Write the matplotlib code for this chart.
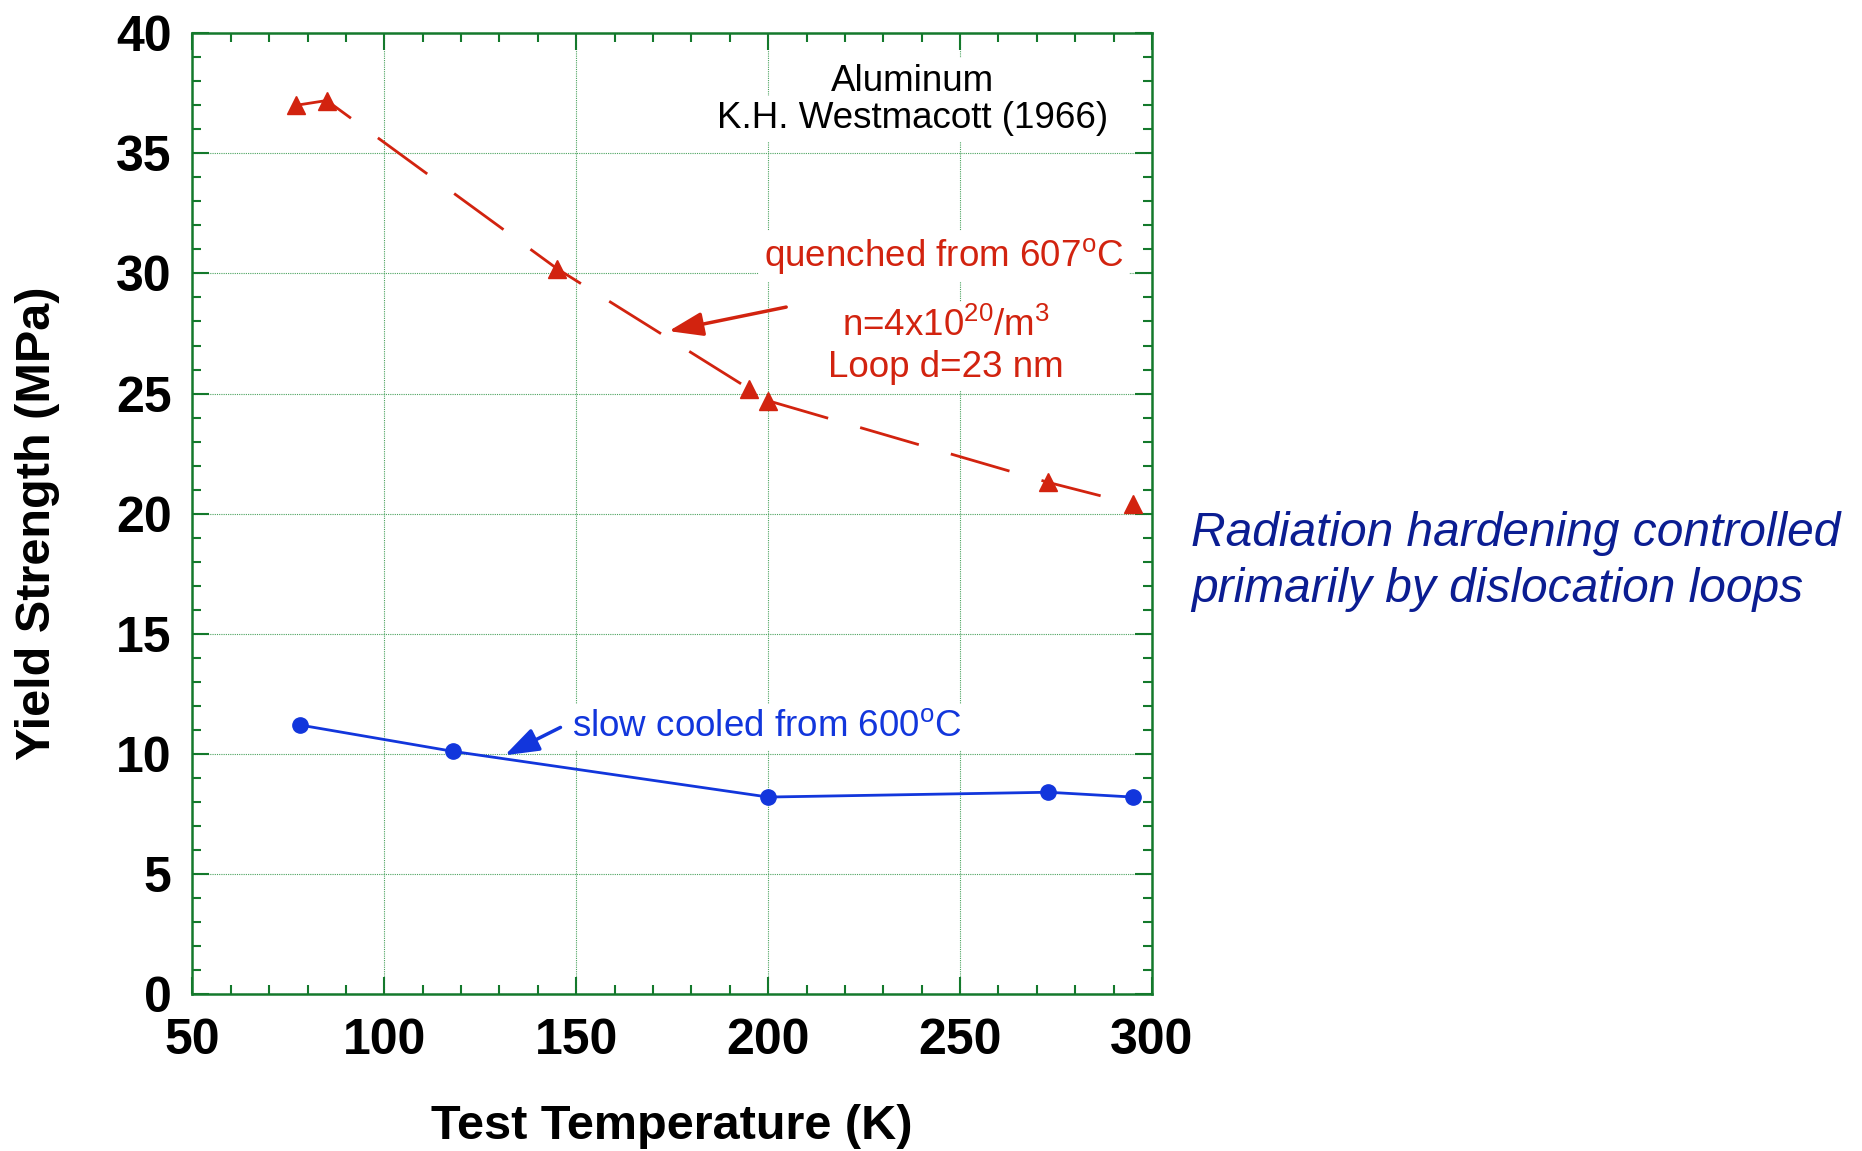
"""Yield strength of aluminum vs test temperature (Westmacott 1966)."""

import matplotlib

matplotlib.use("Agg")
import matplotlib.pyplot as plt
import numpy as np

# quenched from 607 C (red triangles, dashed line)
quenched_temp = [77, 85, 145, 195, 200, 273, 295]
quenched_ys = [37.0, 37.2, 30.2, 25.2, 24.7, 21.3, 20.4]

# slow cooled from 600 C (blue circles, solid line)
slow_temp = [78, 118, 200, 273, 295]
slow_ys = [11.2, 10.1, 8.2, 8.4, 8.2]

x_ticks = [50, 100, 150, 200, 250, 300]
y_ticks = [0, 5, 10, 15, 20, 25, 30, 35, 40]

RED = "#d2230f"
BLUE = "#1236dc"
NAVY = "#0b1d92"
GREEN = "#14792c"
GRID_GREEN = "#4aa35e"

plt.rcParams["font.family"] = ["Liberation Sans", "DejaVu Sans"]
plt.rcParams["mathtext.fontset"] = "custom"
plt.rcParams["mathtext.rm"] = "Liberation Sans"
plt.rcParams["mathtext.it"] = "Liberation Sans:italic"

fig = plt.figure(figsize=(18.62, 11.51), dpi=100)
ax = fig.add_axes([0.1033, 0.1364, 0.5154, 0.8347])

ax.plot(
    quenched_temp,
    quenched_ys,
    color=RED,
    linewidth=2.0,
    dashes=(22, 12),
    marker="^",
    markersize=13,
    zorder=3,
)
ax.plot(
    slow_temp,
    slow_ys,
    color=BLUE,
    linewidth=2.0,
    marker="o",
    markersize=11,
    zorder=3,
)

ax.set_xlim(50, 300)
ax.set_ylim(0, 40)
ax.set_xticks(x_ticks)
ax.set_yticks(y_ticks)
ax.set_xticks(np.arange(50, 301, 10), minor=True)
ax.set_yticks(np.arange(0, 41, 1), minor=True)

ax.tick_params(
    which="both", direction="in", top=True, right=True,
    color=GREEN, width=1.5,
)
ax.tick_params(which="major", length=12, labelsize=36)
ax.tick_params(axis="x", which="major", pad=17)
ax.tick_params(axis="y", which="major", pad=15)
ax.tick_params(which="minor", length=6.5)
for lab in ax.get_xticklabels() + ax.get_yticklabels():
    lab.set_fontweight("bold")

for spine in ax.spines.values():
    spine.set_color(GREEN)
    spine.set_linewidth(1.8)

ax.set_axisbelow(True)
ax.grid(True, which="major", color=GRID_GREEN, linewidth=0.8,
        linestyle=(0, (1, 1)))

ax.set_xlabel("Test Temperature (K)", fontsize=35, fontweight="bold",
              labelpad=29)
ax.set_ylabel("Yield Strength (MPa)", fontsize=35, fontweight="bold",
              labelpad=40)
ax.yaxis.label.set_y(0.49)

white_box = dict(facecolor="white", edgecolor="none", pad=4)

ax.text(237.5, 37.6, "Aluminum", fontsize=26.5, ha="center",
        va="baseline", bbox=white_box, zorder=4)
ax.text(237.5, 36.05, "K.H. Westmacott (1966)", fontsize=26.5,
        ha="center", va="baseline", bbox=white_box, zorder=4)

ax.text(245.8, 30.3, r"quenched from 607$^{\mathrm{o}}$C", fontsize=26.5,
        color=RED, ha="center", va="baseline", bbox=white_box, zorder=4)
ax.text(246.2, 27.4, r"n=4x10$^{\mathrm{20}}$/m$^{\mathrm{3}}$",
        fontsize=26.5, color=RED, ha="center", va="baseline",
        bbox=white_box, zorder=4)
ax.text(246.2, 25.67, "Loop d=23 nm", fontsize=26.5, color=RED,
        ha="center", va="baseline", bbox=white_box, zorder=4)

ax.text(149, 10.73, r"slow cooled from 600$^{\mathrm{o}}$C", fontsize=26.5,
        color=BLUE, ha="left", va="baseline", bbox=white_box, zorder=4)

arrow_style = "-|>,head_length=0.8,head_width=0.28"
ax.annotate(
    "", xy=(174.1, 27.6), xytext=(204.7, 28.6),
    arrowprops=dict(arrowstyle=arrow_style, color=RED, lw=2.5,
                    mutation_scale=26, shrinkA=0, shrinkB=0),
    zorder=5,
)
ax.annotate(
    "", xy=(131.4, 9.94), xytext=(145.9, 11.1),
    arrowprops=dict(arrowstyle=arrow_style, color=BLUE, lw=2.5,
                    mutation_scale=26, shrinkA=0, shrinkB=0),
    zorder=5,
)

fig.text(0.6396, 0.477, "Radiation hardening controlled\n"
         "primarily by dislocation loops", fontsize=34.5, style="italic",
         color=NAVY, ha="left", va="baseline", linespacing=1.3)

fig.savefig("out.png", dpi=100)
plt.close(fig)
